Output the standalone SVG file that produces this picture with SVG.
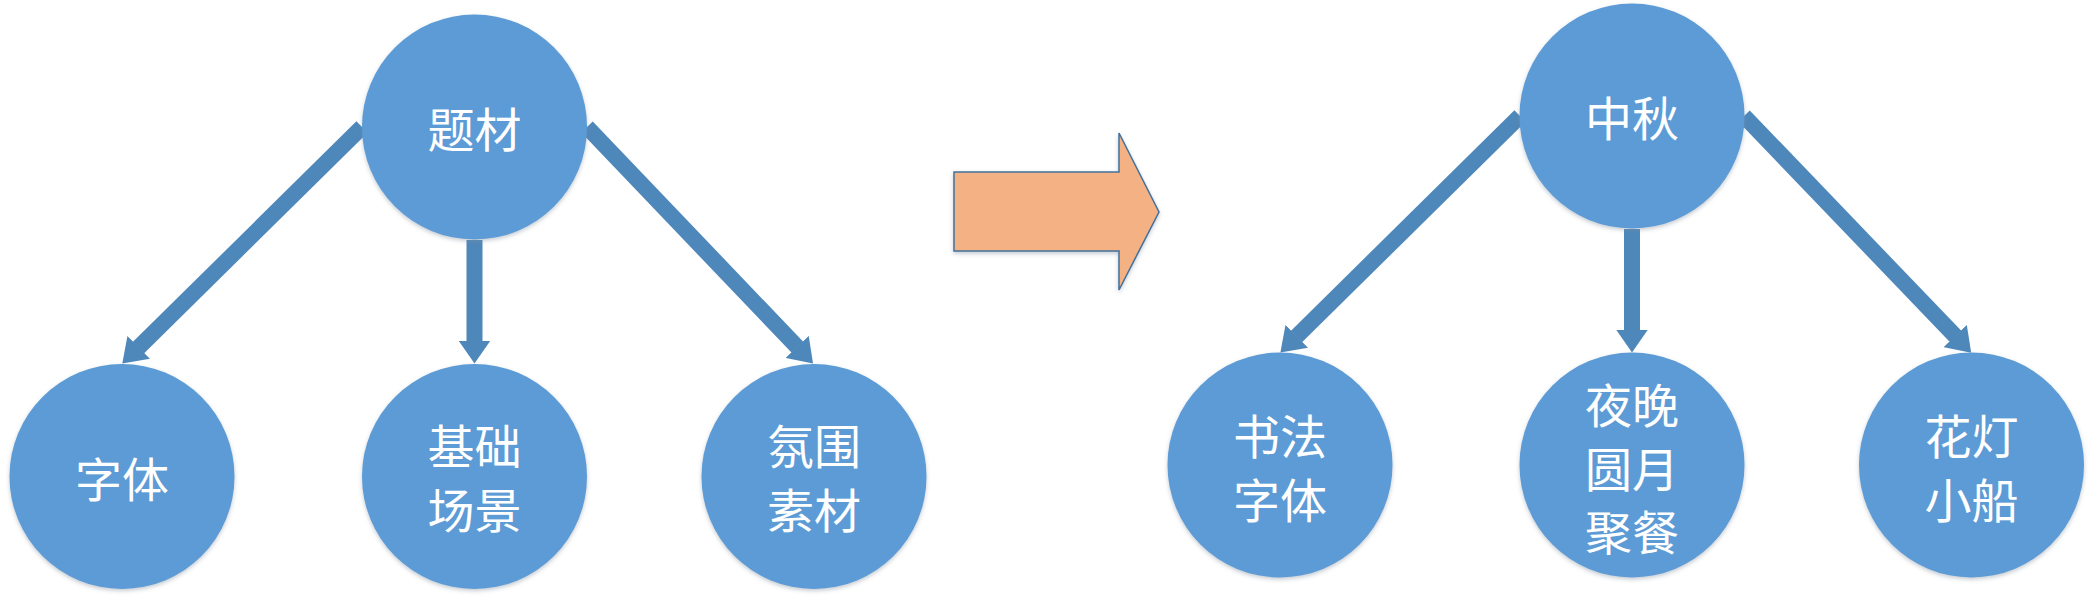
<svg xmlns="http://www.w3.org/2000/svg" width="2095" height="601" viewBox="0 0 2095 601">
  <defs>
    <filter id="sh" x="-20%" y="-20%" width="140%" height="140%">
      <feDropShadow dx="0" dy="2" stdDeviation="2" flood-color="#7f8c99" flood-opacity="0.45"/>
    </filter>
    <marker id="ah" viewBox="0 0 23 32" refX="0.5" refY="16" markerWidth="23" markerHeight="32" markerUnits="userSpaceOnUse" orient="auto">
      <path d="M0,0 L23,16 L0,32 Z" fill="#4E87BA"/>
    </marker>
  </defs>
  <style>
    .node circle { fill: #5B9BD5; filter: url(#sh); }
    .node text { fill: #FFFFFF; font-family: "Noto Sans CJK SC", "Noto Sans", sans-serif; font-size: 47px; text-anchor: middle; dominant-baseline: central; }
    .conn line { stroke: #4E87BA; stroke-width: 16; marker-end: url(#ah); }
  </style>
  <rect width="2095" height="601" fill="#FFFFFF"/>

  <g id="connectors" class="conn">
    <line x1="362" y1="127" x2="138.3" y2="347.8"/>
    <line x1="474.5" y1="240" x2="474.5" y2="341"/>
    <line x1="587" y1="127" x2="797.5" y2="347.3"/>
    <line x1="1520" y1="116" x2="1296.4" y2="336.6"/>
    <line x1="1632" y1="229" x2="1632" y2="330"/>
    <line x1="1744" y1="116" x2="1955.6" y2="336.4"/>
  </g>

  <g id="bigArrow">
    <polygon points="954,172 1119,172 1119,133 1159,212 1119,290 1119,251 954,251" fill="#F4B183" stroke="#41719C" stroke-width="1.5" filter="url(#sh)"/>
  </g>

  <g id="n-ticai" class="node">
    <circle cx="474.5" cy="127" r="112.5"/>
    <text x="474.5" y="126">题材</text>
  </g>
  <g id="n-ziti" class="node">
    <circle cx="122" cy="476.5" r="112.5"/>
    <text x="122" y="476">字体</text>
  </g>
  <g id="n-jichu" class="node">
    <circle cx="474.5" cy="476.5" r="112.5"/>
    <text x="474.5" y="443">基础</text>
    <text x="474.5" y="507">场景</text>
  </g>
  <g id="n-fenwei" class="node">
    <circle cx="814" cy="476.5" r="112.5"/>
    <text x="814" y="443">氛围</text>
    <text x="814" y="507">素材</text>
  </g>

  <g id="n-zhongqiu" class="node">
    <circle cx="1632" cy="116" r="112.5"/>
    <text x="1632" y="115">中秋</text>
  </g>
  <g id="n-shufa" class="node">
    <circle cx="1280" cy="465" r="112.5"/>
    <text x="1280" y="433">书法</text>
    <text x="1280" y="497">字体</text>
  </g>
  <g id="n-yewan" class="node">
    <circle cx="1632" cy="465" r="112.5"/>
    <text x="1632" y="402">夜晚</text>
    <text x="1632" y="466">圆月</text>
    <text x="1632" y="529">聚餐</text>
  </g>
  <g id="n-huadeng" class="node">
    <circle cx="1971.5" cy="465" r="112.5"/>
    <text x="1971.5" y="433">花灯</text>
    <text x="1971.5" y="497">小船</text>
  </g>
</svg>
